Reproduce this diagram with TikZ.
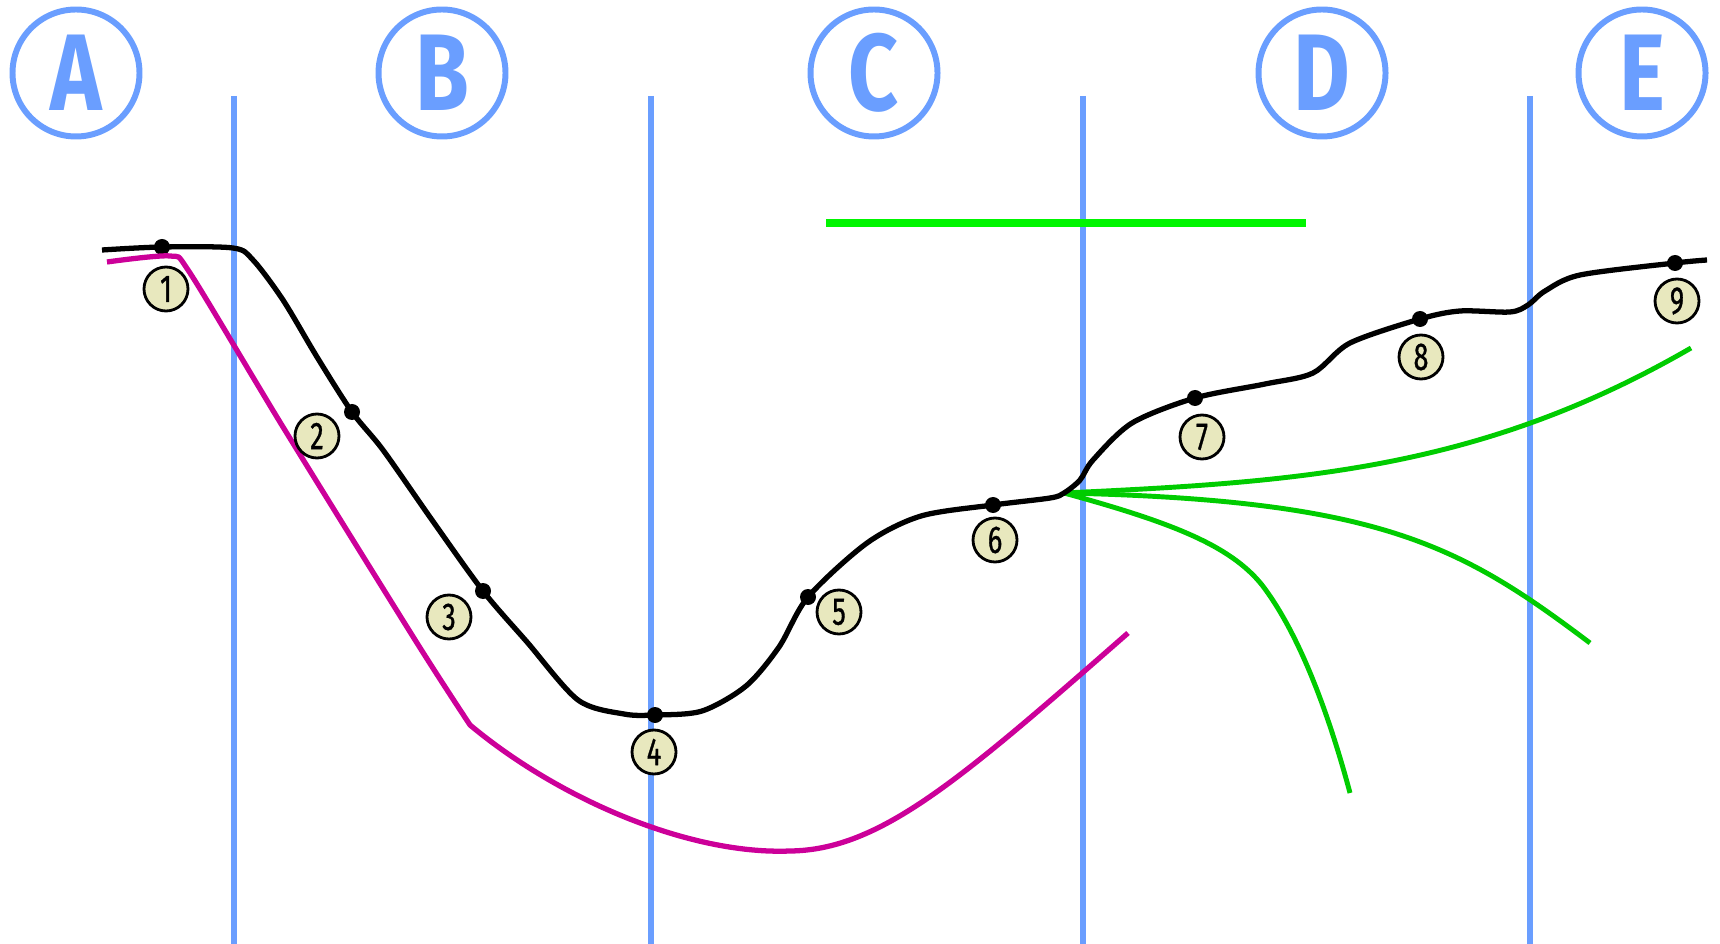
\documentclass[tikz,border=0pt]{standalone}
\usepackage{fontspec}
\newfontfamily\zonefont[FakeStretch=0.8]{Fira Sans}
\newfontfamily\numfont[FakeStretch=0.7,FakeBold=0.8]{Fira Sans}
\definecolor{laneblue}{RGB}{106,158,255}
\definecolor{limegreen}{RGB}{0,245,0}
\definecolor{fangreen}{RGB}{0,204,0}
\definecolor{magentaline}{RGB}{204,0,153}
\definecolor{numfill}{RGB}{232,232,190}

\begin{document}
\begin{tikzpicture}[
    x=0.1mm, y=-0.1mm,
    zone/.style={draw=laneblue, circle, line width=1.7pt, minimum size=12.7mm,
      inner sep=0pt, text=laneblue, font={\zonefont\bfseries\fontsize{31}{31}\selectfont}},
    lane/.style={draw=laneblue, line width=1.7pt},
    track/.style={draw=black, line width=1.5pt, line join=round},
    lowtrack/.style={draw=magentaline, line width=1.5pt, line join=round},
    fan/.style={draw=fangreen, line width=1.4pt},
    dot/.style={circle, fill=black, inner sep=0pt, minimum size=1.6mm},
    numbox/.style={draw=black, circle, line width=0.8pt, fill=numfill,
      minimum size=4.4mm, inner sep=0pt, font={\numfont\fontsize{11}{11}\selectfont}}
]
\useasboundingbox (0,0) rectangle (1720,944);

\node (zA) [zone] at (76,73)   {A};
\node (zB) [zone] at (442,73)  {B};
\node (zC) [zone] at (874,73)  {C};
\node (zD) [zone] at (1322,73) {D};
\node (zE) [zone] at (1642,73) {E};

\foreach \x in {234,651,1083,1530}
  \draw [lane] (\x,96) -- (\x,944);

\coordinate (gl) at (826,223);
\coordinate (gr) at (1306,223);
\draw [draw=limegreen, line width=2pt] (gl) -- (gr);

\node (d1) [dot] at (162,247)  {};
\node (d2) [dot] at (352,412)  {};
\node (d3) [dot] at (483,591)  {};
\node (d4) [dot] at (655,715)  {};
\node (d5) [dot] at (808,597)  {};
\node (d6) [dot] at (993,505)  {};
\node (d7) [dot] at (1195,398) {};
\node (d8) [dot] at (1420,319) {};
\node (d9) [dot] at (1675,263) {};
\coordinate (fork) at (1064,493);
\coordinate (low) at (790,851);

\draw [lowtrack] plot [smooth, tension=0.45] coordinates {
  (107,262) (170,256) (190,273) (283,427) (417,643) (470,725)}
  .. controls (560,800) and (690,855) .. (low)
  .. controls (880,850) and (960,780) .. (1128,633);

\draw [fan] (fork) .. controls (1300,482) and (1480,470) .. (1691,348);
\draw [fan] (fork) .. controls (1380,500) and (1460,545) .. (1590,643);
\draw [fan] (fork) .. controls (1170,522) and (1230,545) .. (1262,585)
  .. controls (1295,628) and (1325,700) .. (1350,793);

\draw [track] plot [smooth, tension=0.5] coordinates {
  (102,250) (d1.center) (233,248) (253,260) (283,300) (317,357) (d2.center)
  (383,450) (432,520) (d3.center) (527,642) (578,700) (624,714)
  (d4.center) (702,711) (746,686) (779,647) (d5.center) (867,543) (921,516)
  (d6.center) (1050,498) (fork) (1080,480) (1093,460) (1132,423) (d7.center)
  (1265,384) (1313,373) (1350,343) (d8.center) (1460,311) (1510,312)
  (1528,305) (1545,291) (1580,275) (d9.center) (1707,260)};

\node (n1) [numbox] at (166,289)  {1};
\node (n2) [numbox] at (317,436)  {2};
\node (n3) [numbox] at (449,617)  {3};
\node (n4) [numbox] at (654,752)  {4};
\node (n5) [numbox] at (839,612)  {5};
\node (n6) [numbox] at (995,540)  {6};
\node (n7) [numbox] at (1202,437) {7};
\node (n8) [numbox] at (1421,357) {8};
\node (n9) [numbox] at (1677,301) {9};
\end{tikzpicture}
\end{document}
